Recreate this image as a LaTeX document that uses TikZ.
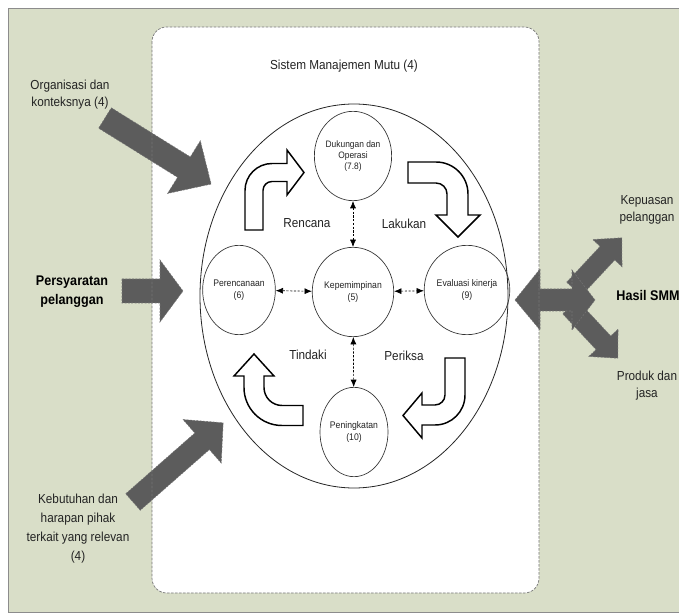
\documentclass[tikz,border=0pt]{standalone}
\usepackage{fontspec}
\setmainfont{Liberation Sans}[FakeStretch=0.9]
\usetikzlibrary{arrows.meta,shapes.geometric}
\definecolor{panel}{RGB}{217,222,200}
\definecolor{darkarr}{RGB}{92,92,92}
\definecolor{txt}{RGB}{35,35,35}
\tikzset{
  bigarrowstyle/.style={fill=darkarr, draw=black!55, line width=0.4pt, dash pattern=on 1.5pt off 1pt},
  hollow/.style={fill=white, draw=black, line width=1.1pt, line join=miter},
  circ/.style={draw=black!80, line width=0.5pt, ellipse, minimum width=51pt, minimum height=67pt, inner sep=0pt, align=center, text=txt, font=\fontsize{7.2}{9.2}\selectfont},
  lbl/.style={align=center, text=txt, inner sep=0pt, font=\fontsize{9.8}{12.8}\selectfont},
  blbl/.style={align=center, text=black, inner sep=0pt, font=\fontsize{10.5}{14.5}\selectfont\bfseries},
  dasharr/.style={{Latex[length=5.5pt,width=4.5pt]}-{Latex[length=5.5pt,width=4.5pt]}, line width=0.5pt, dash pattern=on 1.6pt off 1.2pt},
  boxborder/.style={draw=black!55, line width=0.5pt, dash pattern=on 2pt off 1pt, rounded corners=11pt}
}
% x y angle length shafthalf headhalf headlength
\newcommand\bigarr[7]{%
  \path[bigarrowstyle, shift={(#1,#2)}, rotate=#3]
    (0,-#5) -- ({#4-#7},-#5) -- ({#4-#7},-#6) -- (#4,0) -- ({#4-#7},#6) -- ({#4-#7},#5) -- (0,#5) -- cycle;}
\begin{document}
\begin{tikzpicture}[x=0.75pt,y=-0.75pt]
\useasboundingbox (0,0) rectangle (679,613);
% background panel
\fill[white] (0,0) rectangle (679,613);
\fill[panel] (8,8) rectangle (681,612);
\draw[black!45, line width=0.6pt] (681,8) -- (8,8) -- (8,612) -- (681,612);
% white rounded box
\fill[white, rounded corners=11pt] (152,27) rectangle (539,593);
% title
\node[lbl] (title) at (344,66) {Sistem Manajemen Mutu (4)};
% big ellipse
\node[draw=black!85, line width=0.6pt, ellipse, minimum width=231pt, minimum height=288pt, inner sep=0pt] (big) at (354,296) {};
% inner circles
\node[circ, font=\fontsize{7}{8.4}\selectfont] (dk) at (353,156) {Dukungan dan\\Operasi\\(7.8)};
\node[circ] (kep) at (353,292) {Kepemimpinan\\(5)};
\node[circ] (per) at (239,290) {Perencanaan\\(6)};
\node[circ] (eva) at (467,290) {Evaluasi kinerja\\(9)};
\node[circ] (pen) at (354,432) {Peningkatan\\(10)};
% dashed double arrows
\draw[dasharr] (per) -- (kep);
\draw[dasharr] (kep) -- (eva);
\draw[dasharr] (dk) -- (kep);
\draw[dasharr] (kep) -- (pen);
% hollow bent arrows
\path[hollow] (245,230) -- (245,190.5) .. controls (245,175.6) and (257.1,163.5) .. (272,163.5) -- (287,163.5) -- (287,150) -- (304,172.5) -- (287,195) -- (287,181.5) -- (272,181.5) .. controls (267,181.5) and (263,185.5) .. (263,190.5) -- (263,230) -- cycle;
\path[hollow] (408,162) -- (436,162) .. controls (453.7,162) and (468,176.3) .. (468,194) -- (468,215) -- (480,215) -- (458,237) -- (436,215) -- (447,215) -- (447,194) .. controls (447,187.9) and (442.1,183) .. (436,183) -- (408,183) -- cycle;
\path[hollow] (445,358) -- (465,358) -- (465,395) .. controls (465,411.6) and (451.6,425) .. (435,425) -- (422,425) -- (422,438) -- (403,415.5) -- (422,393) -- (422,405) -- (435,405) .. controls (440.5,405) and (445,400.5) .. (445,395) -- cycle;
\path[hollow] (303,405.5) -- (303,425.5) -- (282,425.5) .. controls (261,425.5) and (244,408.5) .. (244,387.5) -- (244,376) -- (234,376) -- (254,354) -- (274,376) -- (264,376) -- (264,387.5) .. controls (264,397.4) and (272.1,405.5) .. (282,405.5) -- cycle;
% cycle labels
\node[lbl] (ren) at (307,223) {Rencana};
\node[lbl] (lak) at (404,224) {Lakukan};
\node[lbl] (tin) at (308,355) {Tindaki};
\node[lbl] (pri) at (404,356) {Periksa};
% dark input arrows
\bigarr{105}{118}{-31.9}{125}{12}{31}{32}
\bigarr{122}{291}{0}{61}{12}{31}{23}
\bigarr{133}{502}{41.3}{120}{11}{29}{28}
% right cluster
\bigarr{574}{289}{47}{70}{10}{20}{21}
\bigarr{570}{307}{-47}{70}{10}{20}{21}
\path[bigarrowstyle] (515,300) -- (540,269) -- (540,289) -- (572,289) -- (572,270) -- (595,300) -- (572,330) -- (572,311) -- (540,311) -- (540,330) -- cycle;
% box border on top
\draw[boxborder] (152,27) rectangle (539,593);
% outside labels
\node[lbl] (org) at (70,94.5) {Organisasi dan\\konteksnya (4)};
\node[blbl] (pers) at (72,292) {Persyaratan\\pelanggan};
\node[lbl, font=\fontsize{9.8}{14.2}\selectfont] (keb) at (78,528.5) {Kebutuhan dan\\harapan pihak\\terkait yang relevan\\(4)};
\node[lbl] (kepu) at (647,209.5) {Kepuasan\\pelanggan};
\node[blbl] (hasil) at (648,295) {Hasil SMM};
\node[lbl] (prod) at (647,385.5) {Produk dan\\jasa};
\end{tikzpicture}
\end{document}
